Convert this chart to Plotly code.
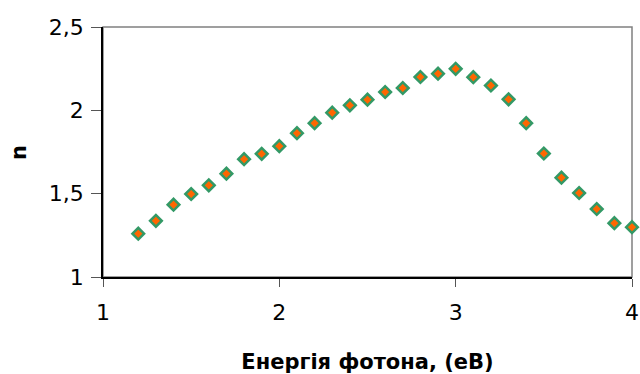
import plotly.graph_objects as go

energy = [1.2, 1.3, 1.4, 1.5, 1.6, 1.7, 1.8, 1.9, 2.0, 2.1, 2.2, 2.3, 2.4, 2.5,
          2.6, 2.7, 2.8, 2.9, 3.0, 3.1, 3.2, 3.3, 3.4, 3.5, 3.6, 3.7, 3.8, 3.9, 4.0]
n_values = [1.26, 1.337, 1.434, 1.498, 1.55, 1.62, 1.707, 1.739, 1.785, 1.863,
            1.923, 1.986, 2.03, 2.064, 2.11, 2.134, 2.20, 2.22, 2.249, 2.199,
            2.149, 2.066, 1.923, 1.741, 1.596, 1.504, 1.408, 1.323, 1.299]
x_ticks = [1, 2, 3, 4]
y_ticks = [1, 1.5, 2, 2.5]
y_tick_labels = ["1", "1,5", "2", "2,5"]
y_title = "n"

fig = go.Figure()
fig.add_trace(go.Scatter(
    x=energy, y=n_values, mode="markers",
    marker=dict(symbol="diamond", size=9, color="#FF6600",
                line=dict(color="#339966", width=2.5)),
    cliponaxis=False, showlegend=False,
))

font = "DejaVu Sans, sans-serif"
fig.update_layout(
    width=640, height=374,
    margin=dict(l=103, r=8, t=27, b=97),
    paper_bgcolor="white", plot_bgcolor="white",
    separators=", ",
    font=dict(family=font, size=22, color="black"),
    shapes=[dict(type="rect", xref="paper", yref="paper", x0=0, x1=1, y0=0, y1=1,
                 line=dict(color="#808080", width=1.5), layer="below")],
    annotations=[dict(text="<b>" + y_title + "</b>", xref="paper", yref="paper",
                      x=-0.159, y=0.5, xanchor="center", yanchor="middle",
                      textangle=-90, showarrow=False, font=dict(size=21))],
)
fig.update_xaxes(
    range=[1, 4], tickvals=x_ticks, showgrid=False, zeroline=False, automargin=False,
    showline=True, linecolor="black", linewidth=1.5,
    ticks="outside", ticklen=8, tickcolor="#555555", tickwidth=1,
    tickfont=dict(size=22), ticklabelstandoff=7,
    title=dict(text="<b>Енергія фотона, (еВ)</b>", font=dict(size=21), standoff=32),
)
fig.update_yaxes(
    range=[1, 2.5], tickvals=y_ticks, ticktext=y_tick_labels, showgrid=False,
    zeroline=False, showline=True, linecolor="black", linewidth=1.5, automargin=False,
    ticks="outside", ticklen=10, tickcolor="#555555", tickwidth=1,
    tickfont=dict(size=22), ticklabelstandoff=3,
)

fig.write_html(
    "out.html",
    config={"displayModeBar": False},
    post_script="document.body.style.margin='0';document.body.style.overflow='hidden';",
)
